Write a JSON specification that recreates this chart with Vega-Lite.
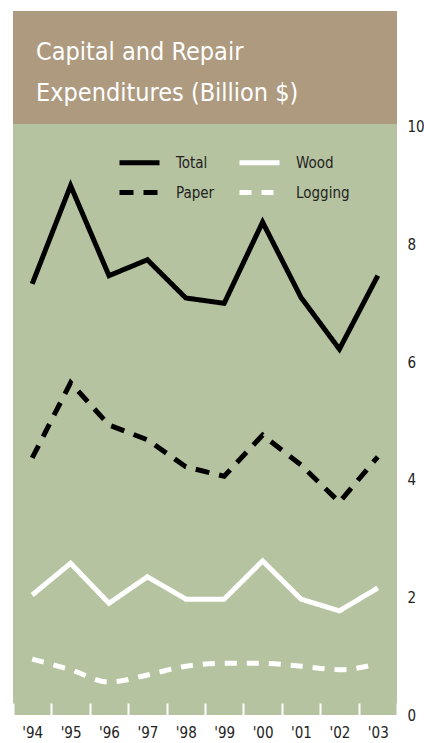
{
  "$schema": "https://vega.github.io/schema/vega-lite/v6.json",
  "width": 384,
  "height": 704,
  "autosize": {"type": "none"},
  "padding": {"left": 13, "top": 11, "right": 27, "bottom": 28},
  "background": "white",
  "title": {
    "text": ["Capital and Repair", "Expenditures (Billion $)"],
    "anchor": "start",
    "frame": "group",
    "dx": 23,
    "offset": -95,
    "font": "DejaVu Sans Condensed",
    "fontSize": 25,
    "fontWeight": "normal",
    "color": "white",
    "lineHeight": 41
  },
  "config": {
    "view": {"fill": "#b6c3a0", "stroke": null},
    "font": "DejaVu Sans Condensed"
  },
  "data": {
    "values": [
      {"year": "'94", "series": "Total", "value": 7.33},
      {"year": "'95", "series": "Total", "value": 9.0},
      {"year": "'96", "series": "Total", "value": 7.47},
      {"year": "'97", "series": "Total", "value": 7.74},
      {"year": "'98", "series": "Total", "value": 7.09},
      {"year": "'99", "series": "Total", "value": 7.0},
      {"year": "'00", "series": "Total", "value": 8.38},
      {"year": "'01", "series": "Total", "value": 7.1},
      {"year": "'02", "series": "Total", "value": 6.22},
      {"year": "'03", "series": "Total", "value": 7.47},
      {"year": "'94", "series": "Paper", "value": 4.37},
      {"year": "'95", "series": "Paper", "value": 5.65},
      {"year": "'96", "series": "Paper", "value": 4.93},
      {"year": "'97", "series": "Paper", "value": 4.68},
      {"year": "'98", "series": "Paper", "value": 4.22},
      {"year": "'99", "series": "Paper", "value": 4.06},
      {"year": "'00", "series": "Paper", "value": 4.76},
      {"year": "'01", "series": "Paper", "value": 4.25},
      {"year": "'02", "series": "Paper", "value": 3.62},
      {"year": "'03", "series": "Paper", "value": 4.39},
      {"year": "'94", "series": "Wood", "value": 2.04},
      {"year": "'95", "series": "Wood", "value": 2.58},
      {"year": "'96", "series": "Wood", "value": 1.9},
      {"year": "'97", "series": "Wood", "value": 2.35},
      {"year": "'98", "series": "Wood", "value": 1.97},
      {"year": "'99", "series": "Wood", "value": 1.97},
      {"year": "'00", "series": "Wood", "value": 2.62},
      {"year": "'01", "series": "Wood", "value": 1.97},
      {"year": "'02", "series": "Wood", "value": 1.77},
      {"year": "'03", "series": "Wood", "value": 2.16},
      {"year": "'94", "series": "Logging", "value": 0.95},
      {"year": "'95", "series": "Logging", "value": 0.77},
      {"year": "'96", "series": "Logging", "value": 0.56},
      {"year": "'97", "series": "Logging", "value": 0.68},
      {"year": "'98", "series": "Logging", "value": 0.83},
      {"year": "'99", "series": "Logging", "value": 0.88},
      {"year": "'00", "series": "Logging", "value": 0.88},
      {"year": "'01", "series": "Logging", "value": 0.83},
      {"year": "'02", "series": "Logging", "value": 0.77},
      {"year": "'03", "series": "Logging", "value": 0.87}
    ]
  },
  "layer": [
    {
      "data": {"values": [{}]},
      "mark": {"type": "rect", "color": "#ad9a7f"},
      "encoding": {
        "y": {"datum": 10.05, "type": "quantitative", "scale": {"domain": [0, 11.97], "nice": false}},
        "y2": {"datum": 11.97}
      }
    },
    {
      "transform": [{"filter": "datum.series !== 'Logging'"}],
      "mark": {"type": "line", "strokeWidth": 5, "strokeCap": "butt"},
      "encoding": {
        "x": {
          "field": "year", "type": "ordinal", "sort": null,
          "scale": {"type": "band", "paddingInner": 0, "paddingOuter": 0},
          "axis": {
            "title": null, "domain": false, "tickBand": "extent",
            "tickColor": "white", "tickWidth": 2, "tickSize": -12,
            "labelAngle": 0, "labelFontSize": 15, "labelColor": "#222", "labelPadding": 22,
            "grid": false
          }
        },
        "y": {
          "field": "value", "type": "quantitative",
          "scale": {"domain": [0, 11.97], "nice": false},
          "axis": {
            "orient": "right", "title": null, "values": [0, 2, 4, 6, 8, 10], "format": "d",
            "domain": false, "ticks": false, "labelPadding": 10,
            "labelFontSize": 15, "labelColor": "#222",
            "gridColor": "white", "gridWidth": 2, "gridOpacity": {"condition": {"test": "datum.value === 0", "value": 0}, "value": 1}
          }
        },
        "color": {
          "field": "series", "type": "nominal",
          "scale": {"domain": ["Total", "Wood", "Paper", "Logging"], "range": ["black", "white", "black", "white"]},
          "legend": {
            "orient": "none", "legendX": 104, "legendY": 144, "columns": 2, "title": null,
            "values": ["Total", "Paper", "Wood", "Logging"],
            "symbolType": "stroke", "symbolSize": 1600, "symbolStrokeWidth": 5,
            "labelFontSize": 15, "labelColor": "#222", "labelOffset": 14,
            "columnPadding": 22, "rowPadding": 14, "clipHeight": 15
          }
        },
        "strokeDash": {
          "field": "series", "type": "nominal",
          "scale": {"domain": ["Total", "Wood", "Paper", "Logging"], "range": [[1, 0], [1, 0], [14, 10], [12, 10]]},
          "legend": {
            "orient": "none", "legendX": 104, "legendY": 144, "columns": 2, "title": null,
            "values": ["Total", "Paper", "Wood", "Logging"],
            "symbolType": "stroke", "symbolSize": 1600, "symbolStrokeWidth": 5,
            "labelFontSize": 15, "labelColor": "#222", "labelOffset": 14,
            "columnPadding": 22, "rowPadding": 14, "clipHeight": 15
          }
        }
      }
    },
    {
      "transform": [{"filter": "datum.series === 'Logging'"}],
      "mark": {"type": "line", "strokeWidth": 5, "interpolate": "monotone", "strokeCap": "butt"},
      "encoding": {
        "x": {"field": "year", "type": "ordinal", "sort": null},
        "y": {"field": "value", "type": "quantitative"},
        "color": {"field": "series", "type": "nominal"},
        "strokeDash": {"field": "series", "type": "nominal"}
      }
    }
  ]
}
